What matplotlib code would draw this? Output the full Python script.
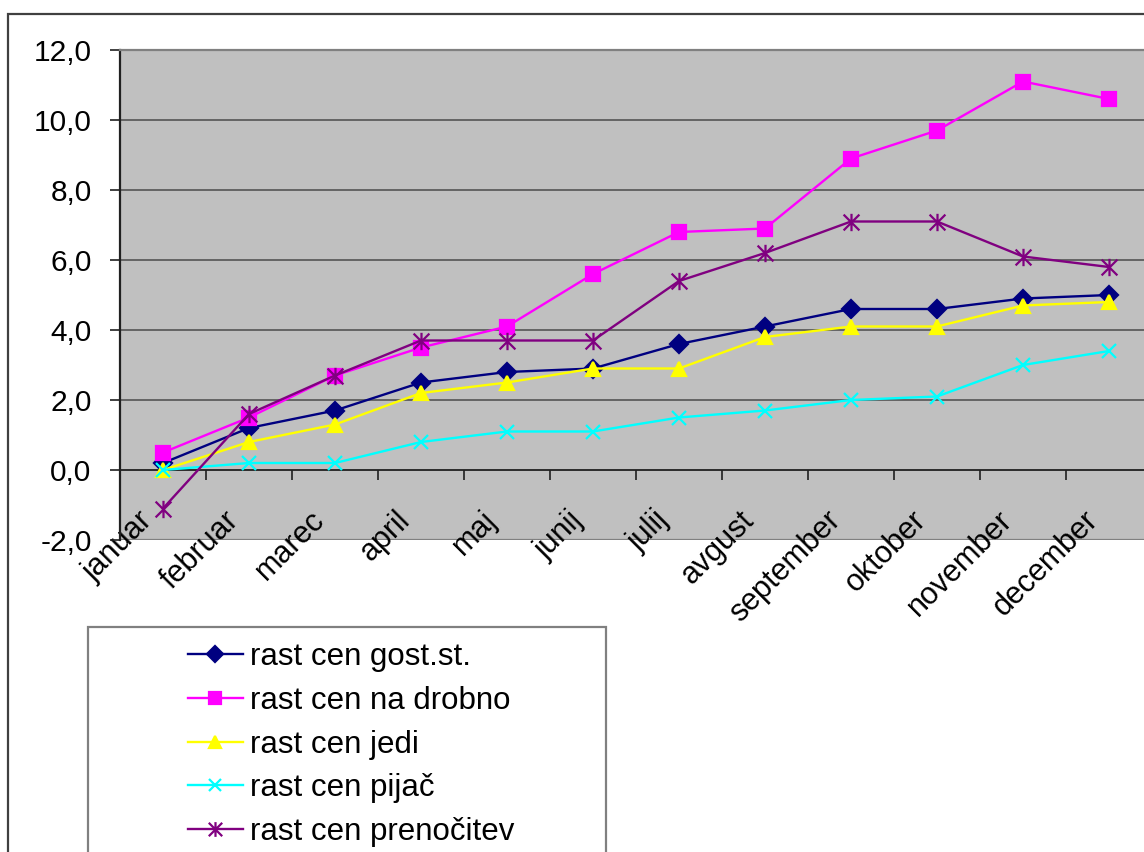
import matplotlib.pyplot as plt
import matplotlib
import numpy as np
from matplotlib.path import Path
from matplotlib.patches import Rectangle
from matplotlib.transforms import ScaledTranslation

matplotlib.rc('font', family='Liberation Sans')

months = ['januar', 'februar', 'marec', 'april', 'maj', 'junij',
          'julij', 'avgust', 'september', 'oktober', 'november', 'december']

gost_st = [0.2, 1.2, 1.7, 2.5, 2.8, 2.9, 3.6, 4.1, 4.6, 4.6, 4.9, 5.0]
na_drobno = [0.5, 1.5, 2.7, 3.5, 4.1, 5.6, 6.8, 6.9, 8.9, 9.7, 11.1, 10.6]
jedi = [0.0, 0.8, 1.3, 2.2, 2.5, 2.9, 2.9, 3.8, 4.1, 4.1, 4.7, 4.8]
pijac = [0.0, 0.2, 0.2, 0.8, 1.1, 1.1, 1.5, 1.7, 2.0, 2.1, 3.0, 3.4]
prenocitev = [-1.1, 1.6, 2.7, 3.7, 3.7, 3.7, 5.4, 6.2, 7.1, 7.1, 6.1, 5.8]

y_ticks = [-2, 0, 2, 4, 6, 8, 10, 12]
y_labels = ['-2,0', '0,0', '2,0', '4,0', '6,0', '8,0', '10,0', '12,0']

# excel style star: an X with a vertical bar through it
star = Path([(-1, -1), (1, 1), (-1, 1), (1, -1), (0, -1.1), (0, 1.1)],
            [Path.MOVETO, Path.LINETO, Path.MOVETO, Path.LINETO, Path.MOVETO, Path.LINETO])

W, H = 1144, 852
fig = plt.figure(figsize=(W / 100, H / 100), dpi=100)

# outer chart frame
fig.add_artist(Rectangle((8 / W, -0.1), 1.2, (H - 14) / H + 0.1, transform=fig.transFigure,
                         fill=False, edgecolor='#404040', linewidth=1.6))

ax = fig.add_axes([120 / W, (H - 540) / H, 1032 / W, 490 / H])
ax.set_facecolor('#C0C0C0')
x = np.arange(len(months))

series = [
    (gost_st, '#000080', 'D', 9, 'rast cen gost.st.'),
    (na_drobno, '#FF00FF', 's', 9.5, 'rast cen na drobno'),
    (jedi, '#FFFF00', '^', 10, 'rast cen jedi'),
    (pijac, '#00FFFF', 'x', 10, 'rast cen pijač'),
    (prenocitev, '#800080', star, 12.5, 'rast cen prenočitev'),
]
for vals, col, mk, ms, lab in series:
    ax.plot(x, vals, color=col, linewidth=1.7, marker=mk, markersize=ms,
            markerfacecolor=col, markeredgecolor=col, markeredgewidth=1.6,
            label=lab, clip_on=False, zorder=3)

ax.set_xlim(-0.5, 11.5)
ax.set_ylim(-2, 12)

for v in y_ticks[2:-1]:
    ax.axhline(v, color='#555555', linewidth=1.2, zorder=1)
ax.axhline(-2, color='#808080', linewidth=1.6, zorder=1)

ax.spines['top'].set_color('#808080')
ax.spines['top'].set_linewidth(1.6)
ax.spines['right'].set_visible(False)
ax.spines['left'].set_color('#202020')
ax.spines['left'].set_linewidth(1.6)
ax.spines['bottom'].set_position(('data', 0))
ax.spines['bottom'].set_color('#202020')
ax.spines['bottom'].set_linewidth(1.3)

ax.set_yticks(y_ticks)
ax.set_yticklabels(y_labels, fontsize=21.5)
ax.tick_params(axis='y', direction='out', length=7.5, width=1.2, color='#202020', pad=13)

ax.set_xticks(x)
ax.set_xticklabels(months, fontsize=22, rotation=45, ha='right', va='center',
                   rotation_mode='anchor')
ax.set_xticks(np.arange(0.5, 11, 1), minor=True)
ax.tick_params(axis='x', which='major', length=0, pad=33)
ax.tick_params(axis='x', which='minor', direction='out', length=7.5, width=1.2, color='#202020')
shift = ScaledTranslation(-15 / 100, 0, fig.dpi_scale_trans)
for lbl in ax.get_xticklabels():
    lbl.set_transform(lbl.get_transform() + shift)

# legend box, cut by the bottom edge like the frame
fig.add_artist(Rectangle((88 / W, -0.1), 518 / W, (H - 627) / H + 0.1, transform=fig.transFigure,
                         fill=False, edgecolor='#808080', linewidth=1.6))
ax.legend(loc='upper left', bbox_to_anchor=(188 / W, 1 - 642 / H), bbox_transform=fig.transFigure,
          frameon=False, fontsize=22.5, handlelength=1.76, handletextpad=0.24,
          labelspacing=0.44, borderpad=0, borderaxespad=0, markerscale=0.85)

fig.savefig('out.png', dpi=100)
